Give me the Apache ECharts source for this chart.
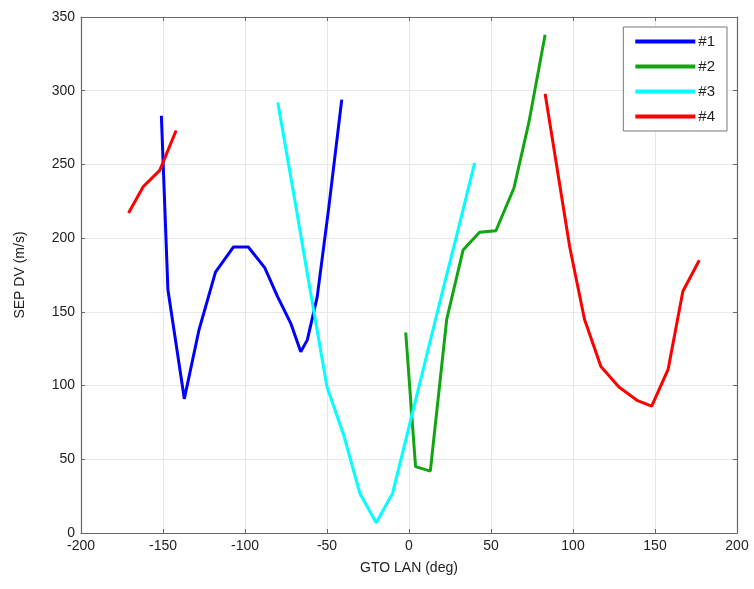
<!DOCTYPE html>
<html>
<head>
<meta charset="utf-8">
<script src="https://cdn.jsdelivr.net/npm/echarts@6/dist/echarts.min.js"></script>
<style>html,body{margin:0;padding:0;background:#fff}#c{width:754px;height:589px}</style>
</head>
<body>
<div id="c"></div>
<script>
var seriesNames = ['#1', '#2', '#3', '#4'];
var x1 = [-151, -147, -137, -128, -118, -107, -98, -88, -80, -72, -66, -62, -56, -49, -41];
var y1 = [283, 165, 91, 138, 177, 194, 194, 180, 160, 142, 123, 131, 160, 220, 294];
var x2 = [-2, 4, 13, 23, 33, 43, 53, 64, 73, 83];
var y2 = [136, 45, 42, 145, 192, 204, 205, 234, 278, 338];
var x3 = [-80, -70, -60, -50, -40, -30, -20, -10, 0, 10, 20, 30, 40];
var y3 = [292, 228, 163, 99, 67, 27, 7, 27, 72, 117, 162, 206, 251];
var x4 = [-171, -162, -152, -142, null, 83, 98, 107, 117, 128, 139, 148, 158, 167, 177];
var y4 = [217, 235, 246, 273, null, 298, 194, 145, 113, 99, 90, 86, 111, 164, 185];
var xTicks = [-200, -150, -100, -50, 0, 50, 100, 150, 200];
var yTicks = [0, 50, 100, 150, 200, 250, 300, 350];
var colors = ['#0000ff', '#11a511', '#00ffff', '#ff0000'];

function pairs(xs, ys) {
  return xs.map(function (x, i) { return (x === null) ? [null, null] : [x, ys[i]]; });
}
var allX = [x1, x2, x3, x4], allY = [y1, y2, y3, y4];

var chart = echarts.init(document.getElementById('c'));
var font = 'Liberation Sans, Arial, sans-serif';
var baseAxis = {
  axisLine: { show: true, onZero: false, lineStyle: { color: '#666', width: 1.2 } },
  axisTick: { show: true, inside: true, length: 4, lineStyle: { color: '#666' } },
  splitLine: { show: true, lineStyle: { color: '#e8e8e8', width: 1 } },
  axisLabel: { color: '#222', fontSize: 14, fontFamily: font }
};
chart.setOption({
  animation: false,
  color: colors,
  grid: { left: 81, right: 17, top: 17, bottom: 56, show: false },
  legend: {
    data: seriesNames,
    orient: 'vertical',
    right: 27, top: 27,
    backgroundColor: '#fff',
    borderColor: '#777', borderWidth: 1,
    padding: [7, 12, 7, 12],
    itemWidth: 60, itemHeight: 4, itemGap: 10,
    icon: 'rect',
    textStyle: { fontSize: 15, fontFamily: font, color: '#222', padding: [0, 0, 0, -2] }
  },
  xAxis: [
    Object.assign({}, baseAxis, {
      type: 'value', min: -200, max: 200, interval: 50, position: 'bottom',
      name: 'GTO LAN (deg)', nameLocation: 'middle', nameGap: 28,
      nameTextStyle: { fontSize: 14, fontFamily: font, color: '#222' },
      axisLabel: Object.assign({}, baseAxis.axisLabel, { margin: 6 })
    }),
    Object.assign({}, baseAxis, {
      type: 'value', min: -200, max: 200, interval: 50, position: 'top',
      axisLabel: { show: false }, splitLine: { show: false }
    })
  ],
  yAxis: [
    Object.assign({}, baseAxis, {
      type: 'value', min: 0, max: 350, interval: 50, position: 'left',
      name: 'SEP DV (m/s)', nameLocation: 'middle', nameGap: 54,
      nameTextStyle: { fontSize: 14, fontFamily: font, color: '#222' },
      axisLabel: Object.assign({}, baseAxis.axisLabel, { margin: 6 })
    }),
    Object.assign({}, baseAxis, {
      type: 'value', min: 0, max: 350, interval: 50, position: 'right',
      axisLabel: { show: false }, splitLine: { show: false }
    })
  ],
  series: seriesNames.map(function (n, i) {
    return {
      name: n, type: 'line', showSymbol: false, connectNulls: false,
      xAxisIndex: 0, yAxisIndex: 0,
      lineStyle: { width: 3, color: colors[i] },
      itemStyle: { color: colors[i] },
      data: pairs(allX[i], allY[i])
    };
  })
});
</script>
</body>
</html>
